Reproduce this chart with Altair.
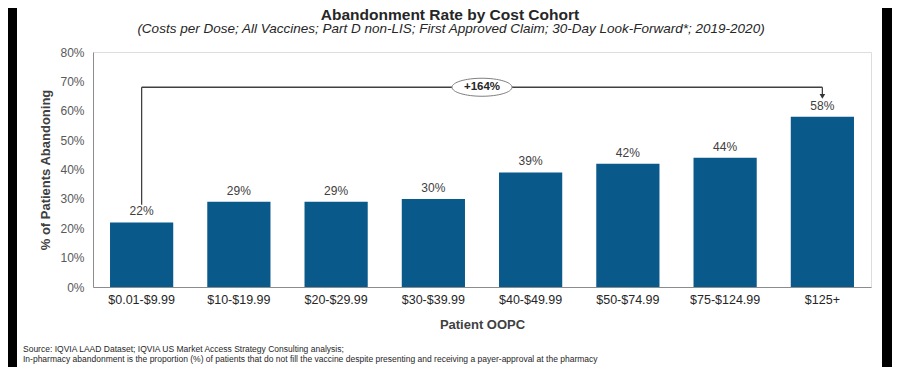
import altair as alt
import pandas as pd

categories = ["$0.01-$9.99", "$10-$19.99", "$20-$29.99", "$30-$39.99",
              "$40-$49.99", "$50-$74.99", "$75-$124.99", "$125+"]
rates = [22, 29, 29, 30, 39, 42, 44, 58]

change_label = "+164%"
bracket_level = 68
leg_gap = 6

title_text = "Abandonment Rate by Cost Cohort"
subtitle_text = "(Costs per Dose; All Vaccines; Part D non-LIS; First Approved Claim; 30-Day Look-Forward*; 2019-2020)"
footnotes = [
    "Source: IQVIA LAAD Dataset; IQVIA US Market Access Strategy Consulting analysis;",
    "In-pharmacy abandonment is the proportion (%) of patients that do not fill the vaccine despite presenting and receiving a payer-approval at the pharmacy",
]
y_ticks = [0, 10, 20, 30, 40, 50, 60, 70, 80]

W, H = 778, 235
FONT = "Liberation Sans"
BAR = "#0a598b"

df = pd.DataFrame({"cohort": categories, "rate": rates})
df["label"] = [f"{v}%" for v in rates]

x_scale = alt.Scale(domain=categories, paddingInner=0.35, paddingOuter=0.175)
x_axis = alt.Axis(title="Patient OOPC", labelAngle=0, ticks=False,
                  labelFont=FONT, labelFontSize=12.5, labelColor="#262626",
                  labelPadding=6, domainColor="#8c8c8c",
                  titleFont=FONT, titleFontSize=13, titleFontWeight="bold",
                  titleColor="#404040", titleY=37, titleBaseline="middle")
y_scale = alt.Scale(domain=[0, 80], nice=False)
y_axis = alt.Axis(title="% of Patients Abandoning", values=y_ticks, labelOverlap=False,
                  labelExpr="datum.value + '%'", ticks=False, grid=False,
                  labelFont=FONT, labelFontSize=12, labelColor="#595959",
                  labelPadding=9, domainColor="#8c8c8c",
                  titleFont=FONT, titleFontSize=13, titleFontWeight="bold",
                  titleColor="#404040", titleX=-48, titleY=H / 2,
                  titleBaseline="middle", titleAngle=-90)


def X(field):
    return alt.X(field, scale=x_scale, axis=x_axis, title="Patient OOPC")


def Y(field):
    return alt.Y(field, scale=y_scale, axis=y_axis, title="% of Patients Abandoning")


bars = alt.Chart(df).mark_bar(color=BAR).encode(x=X("cohort:N"), y=Y("rate:Q"))
labels = alt.Chart(df).mark_text(baseline="bottom", dy=-4, font=FONT, fontSize=12,
                                 color="#404040").encode(
    x=X("cohort:N"), y=Y("rate:Q"), text="label:N")

first, last = df.iloc[0], df.iloc[-1]
legs = pd.DataFrame({
    "cohort": [first["cohort"], last["cohort"]],
    "rate": [bracket_level, bracket_level],
    "end": [first["rate"] + leg_gap, last["rate"] + leg_gap + 1.7],
})
leg_rules = alt.Chart(legs).mark_rule(color="#404040", strokeWidth=1.3).encode(
    x=X("cohort:N"), y=Y("rate:Q"), y2="end:Q")

span = pd.DataFrame({"cohort": [first["cohort"]], "cohort_end": [last["cohort"]],
                     "rate": [bracket_level]})
span_rule = alt.Chart(span).mark_rule(color="#404040", strokeWidth=1.3).encode(
    x=X("cohort:N"), x2="cohort_end:N", y=Y("rate:Q"))

arrow = pd.DataFrame({"cohort": [last["cohort"]], "rate": [last["rate"] + leg_gap + 0.9]})
arrow_head = alt.Chart(arrow).mark_point(shape="triangle-down", filled=True, size=32,
                                         color="#333333", opacity=1).encode(
    x=X("cohort:N"), y=Y("rate:Q"))

badge = pd.DataFrame({"rate": [bracket_level], "txt": [change_label]})
ellipse = alt.Chart(badge).mark_point(
    shape="M-1,0A1,0.3,0,1,0,1,0A1,0.3,0,1,0,-1,0Z", size=3600, filled=True,
    fill="white", stroke="#7f7f7f", strokeWidth=1, opacity=1).encode(
    x=alt.value(W / 2), y=Y("rate:Q"))
badge_text = alt.Chart(badge).mark_text(font=FONT, fontSize=11.5, fontWeight="bold",
                                        color="#262626", baseline="middle").encode(
    x=alt.value(W / 2), y=Y("rate:Q"), text="txt:N")

one = pd.DataFrame({"k": [0]})

title_mark = alt.Chart(one).mark_text(
    text=title_text, font=FONT, fontSize=15.5, fontWeight="bold", color="#262626",
    align="center", baseline="alphabetic").encode(x=alt.value(357), y=alt.value(-32))
subtitle_mark = alt.Chart(one).mark_text(
    text=subtitle_text, font=FONT, fontSize=13.5, fontStyle="italic", color="#262626",
    align="center", baseline="alphabetic").encode(x=alt.value(358), y=alt.value(-19))
note1 = alt.Chart(one).mark_text(
    text=footnotes[0], font=FONT, fontSize=8.5, color="#262626",
    align="left", baseline="alphabetic").encode(x=alt.value(-70), y=alt.value(300))
note2 = alt.Chart(one).mark_text(
    text=footnotes[1], font=FONT, fontSize=8.5, color="#262626",
    align="left", baseline="alphabetic").encode(x=alt.value(-70), y=alt.value(310))

left_strip = alt.Chart(one).mark_rect(color="black").encode(
    x=alt.value(-85), x2=alt.value(-76), y=alt.value(-44), y2=alt.value(H + 80))
right_strip = alt.Chart(one).mark_rect(color="black").encode(
    x=alt.value(W + 11), x2=alt.value(W + 21), y=alt.value(-44), y2=alt.value(H + 80))

chart = alt.layer(
    bars, labels, leg_rules, span_rule, arrow_head, ellipse, badge_text,
    title_mark, subtitle_mark, note1, note2, left_strip, right_strip
).properties(
    width=W, height=H,
    autosize=alt.AutoSizeParams(type="none"),
    padding={"left": 85, "top": 44, "right": 21, "bottom": 80},
).configure_view(stroke=None).configure(background="white")

chart.save("out.html", embed_options={"renderer": "svg", "actions": False})
